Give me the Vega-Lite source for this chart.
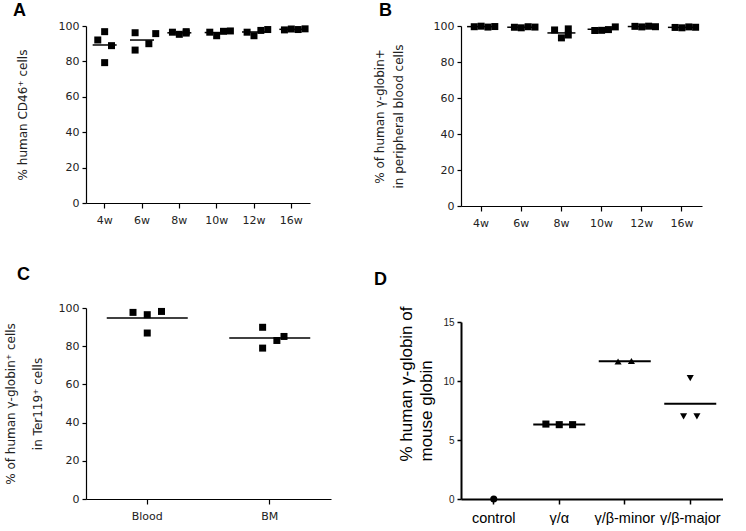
{
  "$schema": "https://vega.github.io/schema/vega-lite/v6.json",
  "padding": {"left": 4, "top": 2, "right": 0, "bottom": 0},
  "config": {
    "view": {"stroke": null},
    "axis": {"domainColor": "#000", "domainWidth": 1.2, "tickColor": "#000", "tickWidth": 1.2, "tickSize": 4, "labelFont": "DejaVu Sans", "labelFontSize": 11, "labelColor": "#222", "titleFont": "DejaVu Sans", "titleFontSize": 12, "titleFontWeight": "normal", "titleColor": "#222", "grid": false},
    "title": {"font": "Liberation Sans", "fontSize": 18, "fontWeight": "bold", "anchor": "start", "frame": "bounds", "color": "#000"}
  },
  "datasets": {
    "A": [
      {"week": "4w", "rep": 2, "value": 92.1}, {"week": "4w", "rep": 3, "value": 96.8}, {"week": "4w", "rep": 3, "value": 79.3}, {"week": "4w", "rep": 4, "value": 88.9},
      {"week": "6w", "rep": 2, "value": 96.2}, {"week": "6w", "rep": 2, "value": 86.4}, {"week": "6w", "rep": 4, "value": 90.0}, {"week": "6w", "rep": 5, "value": 95.7},
      {"week": "8w", "rep": 2, "value": 96.5}, {"week": "8w", "rep": 3, "value": 95.3}, {"week": "8w", "rep": 4, "value": 96.0}, {"week": "8w", "rep": 4, "value": 96.8},
      {"week": "10w", "rep": 2, "value": 96.5}, {"week": "10w", "rep": 3, "value": 94.5}, {"week": "10w", "rep": 4, "value": 97.0}, {"week": "10w", "rep": 5, "value": 97.2},
      {"week": "12w", "rep": 2, "value": 96.5}, {"week": "12w", "rep": 3, "value": 94.5}, {"week": "12w", "rep": 4, "value": 97.5}, {"week": "12w", "rep": 5, "value": 98.0},
      {"week": "16w", "rep": 2, "value": 97.8}, {"week": "16w", "rep": 3, "value": 98.3}, {"week": "16w", "rep": 4, "value": 98.0}, {"week": "16w", "rep": 5, "value": 98.4}
    ],
    "B": [
      {"week": "4w", "rep": 2, "value": 99.6}, {"week": "4w", "rep": 3, "value": 99.9}, {"week": "4w", "rep": 4, "value": 99.4}, {"week": "4w", "rep": 5, "value": 99.7},
      {"week": "6w", "rep": 2, "value": 99.3}, {"week": "6w", "rep": 3, "value": 99.0}, {"week": "6w", "rep": 4, "value": 99.6}, {"week": "6w", "rep": 5, "value": 99.4},
      {"week": "8w", "rep": 2, "value": 97.8}, {"week": "8w", "rep": 4, "value": 98.4}, {"week": "8w", "rep": 3, "value": 93.4}, {"week": "8w", "rep": 4, "value": 95.0},
      {"week": "10w", "rep": 2, "value": 97.5}, {"week": "10w", "rep": 3, "value": 97.6}, {"week": "10w", "rep": 4, "value": 98.0}, {"week": "10w", "rep": 5, "value": 99.5},
      {"week": "12w", "rep": 2, "value": 99.8}, {"week": "12w", "rep": 3, "value": 99.5}, {"week": "12w", "rep": 4, "value": 99.9}, {"week": "12w", "rep": 5, "value": 99.6},
      {"week": "16w", "rep": 2, "value": 99.2}, {"week": "16w", "rep": 3, "value": 99.0}, {"week": "16w", "rep": 4, "value": 99.5}, {"week": "16w", "rep": 5, "value": 99.3}
    ],
    "C": [
      {"tissue": "Blood", "rep": 1, "value": 97.7}, {"tissue": "Blood", "rep": 3, "value": 96.5}, {"tissue": "Blood", "rep": 5, "value": 98.2}, {"tissue": "Blood", "rep": 3, "value": 86.9},
      {"tissue": "BM", "rep": 2, "value": 89.9}, {"tissue": "BM", "rep": 2, "value": 79.0}, {"tissue": "BM", "rep": 4, "value": 83.0}, {"tissue": "BM", "rep": 5, "value": 85.1}
    ],
    "D": [
      {"group": "control", "rep": 3, "value": 0},
      {"group": "γ/α", "rep": 1, "value": 6.35}, {"group": "γ/α", "rep": 3, "value": 6.3}, {"group": "γ/α", "rep": 5, "value": 6.3},
      {"group": "γ/β-minor", "rep": 2, "value": 11.65}, {"group": "γ/β-minor", "rep": 4, "value": 11.7},
      {"group": "γ/β-major", "rep": 3, "value": 10.24}, {"group": "γ/β-major", "rep": 2, "value": 7.0}, {"group": "γ/β-major", "rep": 4, "value": 7.0}
    ]
  },
  "spacing": 42,
  "resolve": {"scale": {"xOffset": "independent", "shape": "independent"}},
  "hconcat": [
    {
      "spacing": 41,
      "resolve": {"scale": {"xOffset": "independent", "shape": "independent"}},
      "vconcat": [
        {
          "title": {"text": "A", "dx": -3, "offset": 0},
          "data": {"name": "A"},
          "width": 224, "height": 177,
          "encoding": {
            "x": {"field": "week", "type": "nominal", "sort": ["4w", "6w", "8w", "10w", "12w", "16w"], "scale": {"paddingInner": 0, "paddingOuter": 0}, "axis": {"title": null, "labelAngle": 0, "labelPadding": 6, "tickSize": 5}},
            "y": {"field": "value", "type": "quantitative", "scale": {"domain": [0, 100], "nice": false}, "axis": {"values": [0, 20, 40, 60, 80, 100], "title": "% human CD46⁺ cells", "titlePadding": 29, "labelPadding": 3}}
          },
          "layer": [
            {"mark": {"type": "square", "size": 49, "color": "#000", "opacity": 1}, "encoding": {"xOffset": {"field": "rep", "type": "nominal", "scale": {"domain": [1, 2, 3, 4, 5], "range": [4.9, 32.4], "paddingInner": 0, "paddingOuter": 0}}}},
            {"mark": {"type": "tick", "size": 24, "thickness": 1.5, "color": "#000", "opacity": 1}, "encoding": {"y": {"aggregate": "mean", "field": "value", "type": "quantitative"}}}
          ]
        },
        {
          "title": {"text": "C", "dx": 13, "offset": 18},
          "data": {"name": "C"},
          "width": 245, "height": 191,
          "encoding": {
            "x": {"field": "tissue", "type": "nominal", "sort": ["Blood", "BM"], "scale": {"paddingInner": 0, "paddingOuter": 0}, "axis": {"title": null, "labelAngle": 0, "labelPadding": 6, "tickSize": 5}},
            "y": {"field": "value", "type": "quantitative", "scale": {"domain": [0, 100], "nice": false}, "axis": {"values": [0, 20, 40, 60, 80, 100], "title": ["% of human  γ-globin⁺ cells", "in Ter119⁺ cells"], "titleLineHeight": 27, "titlePadding": 14, "labelPadding": 3}}
          },
          "layer": [
            {"mark": {"type": "square", "size": 49, "color": "#000", "opacity": 1}, "encoding": {"xOffset": {"field": "rep", "type": "nominal", "scale": {"domain": [1, 2, 3, 4, 5], "range": [47, 75.5], "paddingInner": 0, "paddingOuter": 0}}}},
            {"mark": {"type": "tick", "size": 81, "thickness": 1.5, "color": "#000", "opacity": 1}, "encoding": {"y": {"aggregate": "mean", "field": "value", "type": "quantitative"}}}
          ]
        }
      ]
    },
    {
      "spacing": 43,
      "resolve": {"scale": {"xOffset": "independent", "shape": "independent"}},
      "vconcat": [
        {
          "title": {"text": "B", "dx": 6, "offset": 0},
          "data": {"name": "B"},
          "width": 241, "height": 180,
          "encoding": {
            "x": {"field": "week", "type": "nominal", "sort": ["4w", "6w", "8w", "10w", "12w", "16w"], "scale": {"paddingInner": 0, "paddingOuter": 0}, "axis": {"title": null, "labelAngle": 0, "labelPadding": 6, "tickSize": 5}},
            "y": {"field": "value", "type": "quantitative", "scale": {"domain": [0, 100], "nice": false}, "axis": {"values": [0, 20, 40, 60, 80, 100], "title": ["% of human γ-globin+", "in peripheral blood cells"], "titleLineHeight": 19, "titlePadding": 28, "labelPadding": 3}}
          },
          "layer": [
            {"mark": {"type": "square", "size": 49, "color": "#000", "opacity": 1}, "encoding": {"xOffset": {"field": "rep", "type": "nominal", "scale": {"domain": [1, 2, 3, 4, 5], "range": [6.4, 33.8], "paddingInner": 0, "paddingOuter": 0}}}},
            {"mark": {"type": "tick", "size": 28, "thickness": 1.5, "color": "#000", "opacity": 1}, "encoding": {"y": {"aggregate": "mean", "field": "value", "type": "quantitative"}}}
          ]
        },
        {
          "title": {"text": "D", "dx": -24, "offset": 17},
          "data": {"name": "D"},
          "width": 262, "height": 177,
          "encoding": {
            "x": {"field": "group", "type": "nominal", "sort": ["control", "γ/α", "γ/β-minor", "γ/β-major"], "scale": {"paddingInner": 0, "paddingOuter": 0}, "axis": {"title": null, "labelAngle": 0, "labelPadding": 7, "tickSize": 5, "domainWidth": 2, "tickWidth": 1.5, "labelFont": "Liberation Sans", "labelFontSize": 14.5, "labelColor": "#000", "labelDx": 9}},
            "y": {"field": "value", "type": "quantitative", "scale": {"domain": [0, 15], "nice": false}, "axis": {"values": [0, 5, 10, 15], "title": ["% human γ-globin of", "mouse globin"], "titleFont": "Liberation Sans", "titleFontSize": 17, "titleColor": "#000", "titleLineHeight": 20, "titleAlign": "left", "titleY": 139, "titlePadding": 7, "domainWidth": 2, "tickWidth": 1.5, "labelFont": "Liberation Sans", "labelFontSize": 10, "labelPadding": 3}}
          },
          "layer": [
            {"mark": {"type": "point", "filled": true, "size": 50, "opacity": 1, "color": "#000"}, "encoding": {
              "xOffset": {"field": "rep", "type": "nominal", "scale": {"domain": [1, 2, 3, 4, 5], "range": [19.4, 46.1], "paddingInner": 0, "paddingOuter": 0}},
              "shape": {"field": "group", "type": "nominal", "scale": {"domain": ["control", "γ/α", "γ/β-minor", "γ/β-major"], "range": ["circle", "square", "triangle-up", "triangle-down"]}, "legend": null}}},
            {"transform": [{"filter": "datum.group != 'control'"}], "mark": {"type": "tick", "size": 52, "thickness": 2, "color": "#000", "opacity": 1}, "encoding": {"y": {"aggregate": "mean", "field": "value", "type": "quantitative"}}}
          ]
        }
      ]
    }
  ]
}
